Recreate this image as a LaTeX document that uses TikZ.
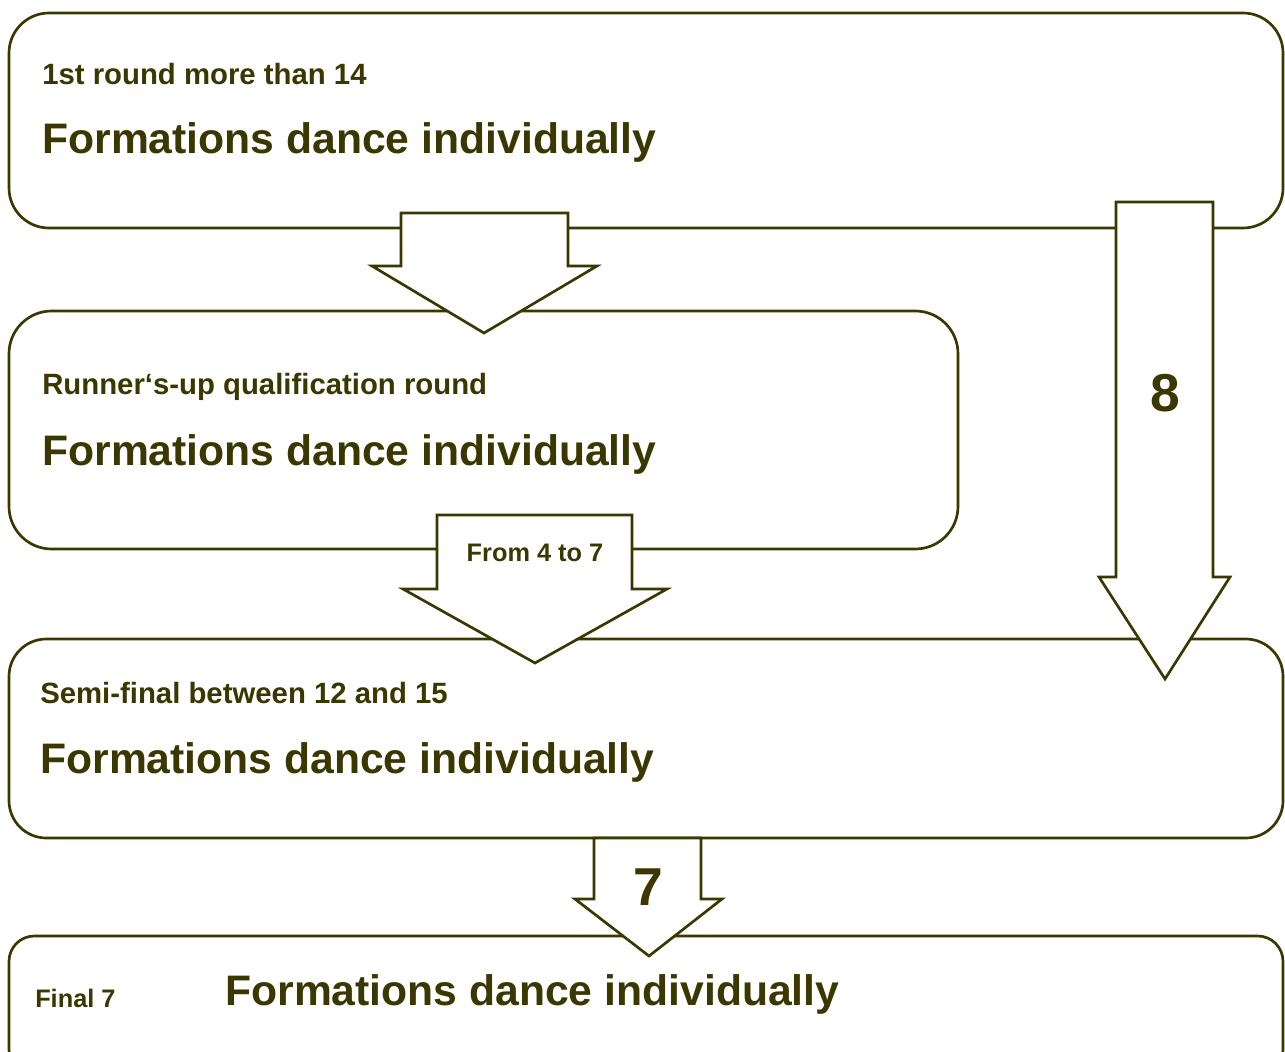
\documentclass[tikz,border=0pt]{standalone}
\usepackage{fontspec}
\setmainfont{Liberation Sans}
\usetikzlibrary{fit}
\definecolor{darkolive}{RGB}{58,56,0}
\tikzset{
  box/.style={draw=darkolive, line width=2pt, inner sep=0pt, fill=white},
  blockarrow/.style={draw=darkolive, fill=white, line width=2pt, line join=miter},
  smalltxt/.style={text=darkolive, font=\bfseries\fontsize{22}{26}\selectfont, inner sep=0pt, anchor=base west},
  bigtxt/.style={text=darkolive, font=\bfseries\fontsize{32}{38}\selectfont, inner sep=0pt, anchor=base west},
  midtxt/.style={text=darkolive, font=\bfseries\fontsize{19}{23}\selectfont, inner sep=0pt, anchor=base},
  numtxt/.style={text=darkolive, font=\bfseries\fontsize{40}{46}\selectfont, inner sep=0pt, anchor=base},
}
\begin{document}
\begin{tikzpicture}[x=0.75pt,y=-0.75pt]
\useasboundingbox (0,0) rectangle (1285,1052);
\clip (0,0) rectangle (1285,1052);
\fill[white] (0,0) rectangle (1285,1052);
% boxes
\node[box, rounded corners=30pt, fit={(9,13) (1283,228)}] (b1) {};
\node[box, rounded corners=32pt, fit={(9,311) (958,549)}] (b2) {};
\node[box, rounded corners=28pt, fit={(9,639) (1283,838)}] (b3) {};
\node[box, rounded corners=19pt, fit={(9,936) (1283,1075)}] (b4) {};
% texts in boxes
\node[smalltxt] (t1a) at (42,85) {1st round more than 14};
\node[bigtxt] (t1b) at (42,154) {Formations dance individually};
\node[smalltxt] (t2a) at (42,394) {Runner‘s-up qualification round};
\node[bigtxt] (t2b) at (42,465) {Formations dance individually};
\node[smalltxt] (t3a) at (40,703) {Semi-final between 12 and 15};
\node[bigtxt] (t3b) at (40,773) {Formations dance individually};
\node[text=darkolive, font=\bfseries\fontsize{19}{23}\selectfont, inner sep=0pt, anchor=base west] (t4a) at (35,1007) {Final 7};
\node[bigtxt] (t4b) at (225,1005) {Formations dance individually};
% block arrows
\draw[blockarrow] (401,213) -- (568,213) -- (568,266) -- (597,266) -- (484,333) -- (372,266) -- (401,266) -- cycle;
\draw[blockarrow] (1116,202) -- (1213,202) -- (1213,577) -- (1230,577) -- (1165,679) -- (1099,577) -- (1116,577) -- cycle;
\draw[blockarrow] (437,515) -- (632,515) -- (632,589) -- (667,589) -- (535,663) -- (403,589) -- (437,589) -- cycle;
\draw[blockarrow] (594,838) -- (701,838) -- (701,899) -- (722,899) -- (649,956) -- (575,899) -- (594,899) -- cycle;
% arrow labels
\node[numtxt] (n8) at (1165,411) {8};
\node[midtxt] (n47) at (535,561) {From 4 to 7};
\node[numtxt] (n7) at (648,905) {7};
\end{tikzpicture}
\end{document}
